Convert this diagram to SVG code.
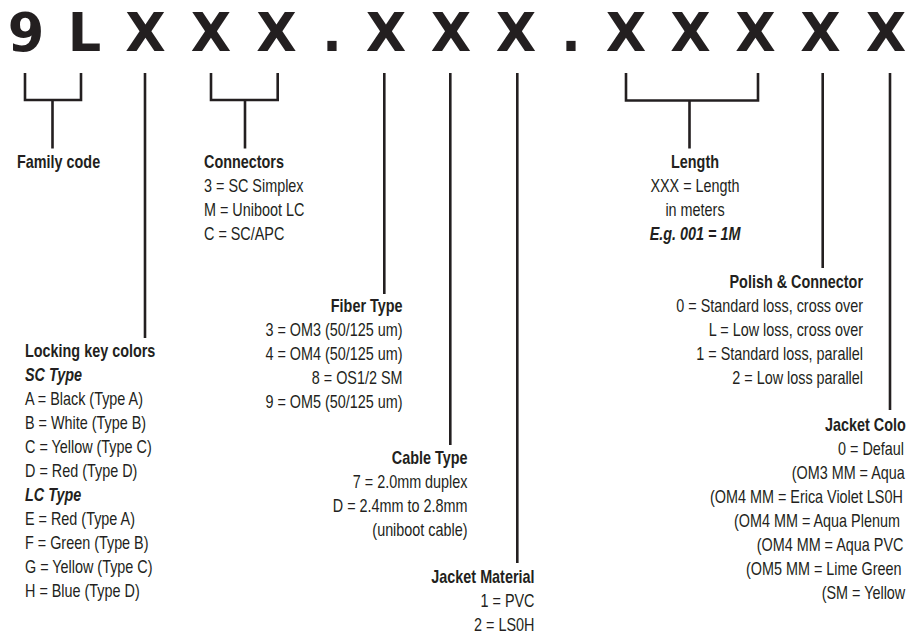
<svg xmlns="http://www.w3.org/2000/svg" width="906" height="633" viewBox="0 0 906 633">
<style>
.big{font-family:"DejaVu Sans",sans-serif;font-weight:bold;font-size:52.5px;fill:#231f20;text-anchor:middle}
.t{font-family:"Liberation Sans",Arial,sans-serif;font-size:18px;fill:#231f20}
.b{font-weight:bold}
.bi{font-weight:bold;font-style:italic}
.e{text-anchor:end}
.m{text-anchor:middle}
.ln{fill:none;stroke:#231f20;stroke-width:2.6;stroke-linejoin:miter;stroke-linecap:butt}
</style>
<rect width="906" height="633" fill="#ffffff"/>
<g id="code">
<text class="big" x="26" y="50.5">9</text>
<text class="big" x="84.5" y="50.5">L</text>
<text class="big" x="145.5" y="50.5">X</text>
<text class="big" x="211" y="50.5">X</text>
<text class="big" x="276.5" y="50.5">X</text>
<text class="big" x="332" y="50.5">.</text>
<text class="big" x="386" y="50.5">X</text>
<text class="big" x="451" y="50.5">X</text>
<text class="big" x="516" y="50.5">X</text>
<text class="big" x="571" y="50.5">.</text>
<text class="big" x="626" y="50.5">X</text>
<text class="big" x="690.5" y="50.5">X</text>
<text class="big" x="755.5" y="50.5">X</text>
<text class="big" x="820.5" y="50.5">X</text>
<text class="big" x="886" y="50.5">X</text>
</g>
<g id="connectors">
<path class="ln" d="M25,73V100H81V73M52.5,100V148.5"/>
<path class="ln" d="M211,73V100H277.7V73M245,100V148.5"/>
<path class="ln" d="M145,73V338"/>
<path class="ln" d="M384.3,73V294"/>
<path class="ln" d="M450.3,73V445"/>
<path class="ln" d="M517.3,73V563"/>
<path class="ln" d="M626,73V100.5H758V73M689.5,100.5V148.5"/>
<path class="ln" d="M822.7,73V268"/>
<path class="ln" d="M890,73V410"/>
</g>
<g id="family" transform="translate(17,0) scale(0.8,1)">
<text class="t b" x="0" y="168">Family code</text>
</g>
<g id="connectors-code" transform="translate(204,0) scale(0.8,1)">
<text class="t b" x="0" y="168">Connectors</text>
<text class="t" x="0" y="192">3 = SC Simplex</text>
<text class="t" x="0" y="216">M = Uniboot LC</text>
<text class="t" x="0" y="240">C = SC/APC</text>
</g>
<g id="locking" transform="translate(25,0) scale(0.8,1)">
<text class="t b" x="0" y="357">Locking key colors</text>
<text class="t bi" x="0" y="381">SC Type</text>
<text class="t" x="0" y="405">A = Black (Type A)</text>
<text class="t" x="0" y="429">B = White (Type B)</text>
<text class="t" x="0" y="453">C = Yellow (Type C)</text>
<text class="t" x="0" y="477">D = Red (Type D)</text>
<text class="t bi" x="0" y="501">LC Type</text>
<text class="t" x="0" y="525">E = Red (Type A)</text>
<text class="t" x="0" y="549">F = Green (Type B)</text>
<text class="t" x="0" y="573">G = Yellow (Type C)</text>
<text class="t" x="0" y="597">H = Blue (Type D)</text>
</g>
<g id="fiber" transform="translate(402.5,0) scale(0.8,1)">
<text class="t b e" x="0" y="312">Fiber Type</text>
<text class="t e" x="0" y="336">3 = OM3 (50/125 um)</text>
<text class="t e" x="0" y="360">4 = OM4 (50/125 um)</text>
<text class="t e" x="0" y="384">8 = OS1/2 SM</text>
<text class="t e" x="0" y="408">9 = OM5 (50/125 um)</text>
</g>
<g id="cable" transform="translate(467.5,0) scale(0.8,1)">
<text class="t b e" x="0" y="464">Cable Type</text>
<text class="t e" x="0" y="488">7 = 2.0mm duplex</text>
<text class="t e" x="0" y="512">D = 2.4mm to 2.8mm</text>
<text class="t e" x="0" y="536">(uniboot cable)</text>
</g>
<g id="jacket-material" transform="translate(534.5,0) scale(0.8,1)">
<text class="t b e" x="0" y="583">Jacket Material</text>
<text class="t e" x="0" y="607">1 = PVC</text>
<text class="t e" x="0" y="631">2 = LS0H</text>
</g>
<g id="length" transform="translate(695,0) scale(0.8,1)">
<text class="t b m" x="0" y="168">Length</text>
<text class="t m" x="0" y="192">XXX = Length</text>
<text class="t m" x="0" y="216">in meters</text>
<text class="t bi m" x="0" y="240">E.g. 001 = 1M</text>
</g>
<g id="polish" transform="translate(863,0) scale(0.8,1)">
<text class="t b e" x="0" y="288">Polish &amp; Connector</text>
<text class="t e" x="0" y="312">0 = Standard loss, cross over</text>
<text class="t e" x="0" y="336">L = Low loss, cross over</text>
<text class="t e" x="0" y="360">1 = Standard loss, parallel</text>
<text class="t e" x="0" y="384">2 = Low loss parallel</text>
</g>
<g id="jacket-color">
<text class="t b" transform="translate(825,0) scale(0.8,1)" x="0" y="431">Jacket Colo</text>
<text class="t" transform="translate(838,0) scale(0.8,1)" x="0" y="455">0 = Defaul</text>
<text class="t" transform="translate(791.7,0) scale(0.8,1)" x="0" y="479">(OM3 MM = Aqua</text>
<text class="t" transform="translate(710,0) scale(0.8,1)" x="0" y="503">(OM4 MM = Erica Violet LS0H</text>
<text class="t" transform="translate(734,0) scale(0.8,1)" x="0" y="527">(OM4 MM = Aqua Plenum</text>
<text class="t" transform="translate(756.7,0) scale(0.8,1)" x="0" y="551">(OM4 MM = Aqua PVC</text>
<text class="t" transform="translate(746,0) scale(0.8,1)" x="0" y="575">(OM5 MM = Lime Green</text>
<text class="t" transform="translate(821.7,0) scale(0.8,1)" x="0" y="599">(SM = Yellow</text>
</g>
</svg>
